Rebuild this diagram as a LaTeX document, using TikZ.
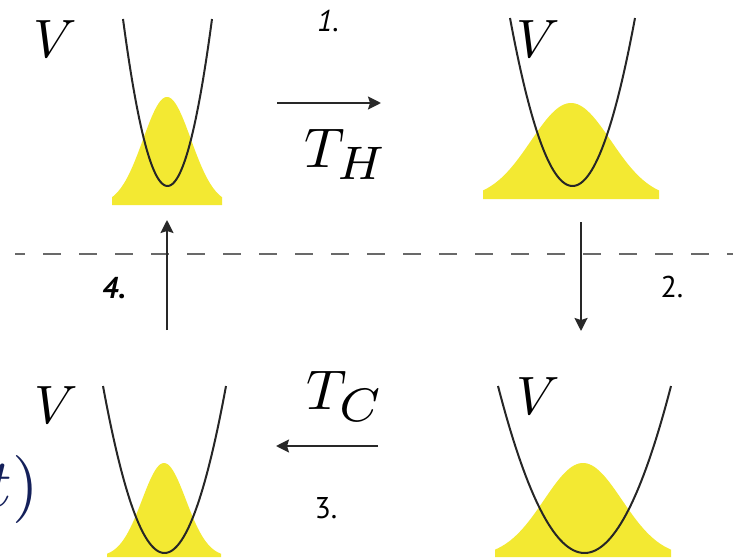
\documentclass[tikz,border=0pt]{standalone}
\usepackage{fontspec}
\setsansfont{PT Sans}
\usetikzlibrary{arrows.meta}
\definecolor{wellyellow}{RGB}{243,233,50}
\definecolor{cycgray}{RGB}{40,40,40}
\definecolor{dashgray}{RGB}{105,105,105}
\definecolor{fragblue}{RGB}{20,32,90}

% harmonic well: centre x, bottom y, half width, depth
\newcommand{\potwell}[4]{%
  \draw[pot] plot[domain=-#3:#3,samples=70] ({#1+\x},{#2-#4*(\x/#3)*(\x/#3)});}
% thermal population: centre x, base y, height, sigma, half range
\newcommand{\popbump}[5]{%
  \fill[wellyellow] (#1-#5,#2) -- plot[domain=-#5:#5,samples=70]
    ({#1+\x},{#2-#3*exp(-0.5*(\x/#4)*(\x/#4))}) -- (#1+#5,#2) -- cycle;}

\begin{document}
\begin{tikzpicture}[x=1pt,y=-1pt,>={Stealth[length=13pt,width=13pt,inset=2pt]},
    pot/.style={line width=2pt,black!85},
    stroke/.style={->,line width=2.2pt,cycgray},
    vlabel/.style={inner sep=0pt,scale=5.4},
    tlabel/.style={inner sep=0pt,scale=5.6,anchor=base west},
    steplabel/.style={inner sep=0pt,font=\fontsize{30}{32}\selectfont\sffamily}]
    \useasboundingbox (0,0) rectangle (733,559);
    \clip (0,0) rectangle (733,559);
    % populations, then wells
    \popbump{167}{205}{108}{24}{55}
    \popbump{571}{199}{96}{40}{88}
    \popbump{164}{557}{94}{22}{57}
    \popbump{583}{557}{94}{39}{88}
    \potwell{167.5}{186}{44.5}{167}
    \potwell{572.5}{186}{62.5}{168}
    \potwell{164.5}{553}{61.5}{167}
    \potwell{584.5}{553}{86.5}{167}
    % potential labels
    \node[vlabel] (V1) at (55,39) {$V$};
    \node[vlabel] (V2) at (538,39) {$V$};
    \node[vlabel] (V3) at (538,396) {$V$};
    \node[vlabel] (V4) at (56,405) {$V$};
    \node[inner sep=0pt,scale=6.8,anchor=east,text=fragblue] (frag) at (40,489) {$t)$};
    % divider
    \coordinate (dl) at (15,254);
    \coordinate (dr) at (740,254);
    \draw[dashgray,line width=2pt,dash pattern=on 18pt off 18pt,dash phase=8pt] (dl) -- (dr);
    % strokes of the cycle
    \coordinate (s1a) at (277,103);
    \coordinate (s1b) at (381,103);
    \coordinate (s2a) at (581,222);
    \coordinate (s2b) at (581,331);
    \coordinate (s3a) at (378,446);
    \coordinate (s3b) at (276,446);
    \coordinate (s4a) at (167,330);
    \coordinate (s4b) at (167,220);
    \draw[stroke] (s1a) -- (s1b);
    \draw[stroke] (s2a) -- (s2b);
    \draw[stroke] (s3a) -- (s3b);
    \draw[stroke] (s4a) -- (s4b);
    \node[tlabel] (TH) at (303,167) {$T_{\scalebox{1.2}{$\scriptstyle H$}}$};
    \node[tlabel] (TC) at (305,409) {$T_{\scalebox{1.2}{$\scriptstyle C$}}$};
    \node[steplabel,font=\fontsize{30}{32}\selectfont\sffamily\itshape] (n1) at (328,21) {1.};
    \node[steplabel] (n2) at (672,287) {2.};
    \node[steplabel] (n3) at (326,508) {3.};
    \node[steplabel,font=\fontsize{30}{32}\selectfont\sffamily\bfseries\itshape] (n4) at (114,288) {4.};
\end{tikzpicture}
\end{document}
